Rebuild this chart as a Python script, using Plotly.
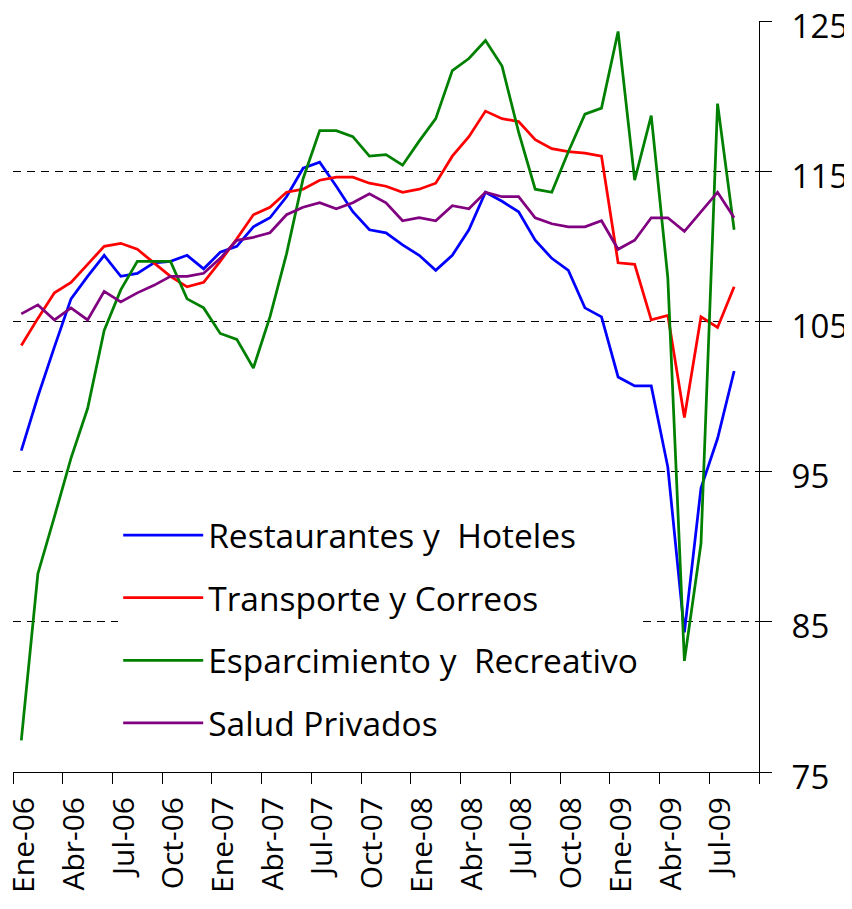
import plotly.graph_objects as go

# Categories (monthly, Ene-06 .. Ago-09)
periods = [
    "Ene-06", "Feb-06", "Mar-06", "Abr-06", "May-06", "Jun-06", "Jul-06", "Ago-06", "Sep-06", "Oct-06", "Nov-06", "Dic-06",
    "Ene-07", "Feb-07", "Mar-07", "Abr-07", "May-07", "Jun-07", "Jul-07", "Ago-07", "Sep-07", "Oct-07", "Nov-07", "Dic-07",
    "Ene-08", "Feb-08", "Mar-08", "Abr-08", "May-08", "Jun-08", "Jul-08", "Ago-08", "Sep-08", "Oct-08", "Nov-08", "Dic-08",
    "Ene-09", "Feb-09", "Mar-09", "Abr-09", "May-09", "Jun-09", "Jul-09", "Ago-09",
]

restaurantes = [96.4, 100.0, 103.3, 106.5, 108.0, 109.4, 108.0, 108.2, 108.9, 109.0, 109.4, 108.5,
                109.6, 110.0, 111.3, 111.9, 113.3, 115.2, 115.6, 114.0, 112.3, 111.1, 110.9, 110.1,
                109.4, 108.4, 109.4, 111.1, 113.6, 113.0, 112.3, 110.4, 109.2, 108.4, 105.9, 105.3,
                101.3, 100.7, 100.7, 95.3, 84.3, 93.9, 97.2, 101.7]

transporte = [103.4, 105.2, 106.9, 107.6, 108.8, 110.0, 110.2, 109.8, 108.9, 108.0, 107.3, 107.6,
              109.0, 110.5, 112.1, 112.6, 113.6, 113.8, 114.4, 114.6, 114.6, 114.2, 114.0, 113.6,
              113.8, 114.2, 116.0, 117.3, 119.0, 118.5, 118.3, 117.1, 116.5, 116.3, 116.2, 116.0,
              108.9, 108.8, 105.1, 105.4, 98.6, 105.3, 104.6, 107.3]

esparcimiento = [77.1, 88.2, 92.0, 95.9, 99.2, 104.4, 107.1, 109.0, 109.0, 109.0, 106.5, 105.9,
                 104.2, 103.8, 101.9, 105.3, 109.5, 114.5, 117.7, 117.7, 117.3, 116.0, 116.1, 115.4,
                 117.0, 118.5, 121.7, 122.5, 123.7, 122.0, 117.6, 113.8, 113.6, 116.3, 118.8, 119.2,
                 124.3, 114.4, 118.7, 107.9, 82.4, 90.2, 119.5, 111.1]

salud = [105.5, 106.1, 105.1, 105.9, 105.1, 107.0, 106.3, 106.9, 107.4, 108.0, 108.0, 108.2,
         109.2, 110.4, 110.6, 110.9, 112.1, 112.6, 112.9, 112.5, 112.9, 113.5, 112.9, 111.7,
         111.9, 111.7, 112.7, 112.5, 113.6, 113.3, 113.3, 111.9, 111.5, 111.3, 111.3, 111.7,
         109.8, 110.4, 111.9, 111.9, 111.0, 112.3, 113.6, 111.9]

series_names = ["Restaurantes y\u00a0 Hoteles", "Transporte y Correos",
                "Esparcimiento y\u00a0 Recreativo", "Salud Privados"]
series_values = [restaurantes, transporte, esparcimiento, salud]
series_colors = ["#0000FF", "#FF0000", "#008000", "#800080"]

y_ticks = [75, 85, 95, 105, 115, 125]
n_slots = 45  # axis spans 45 monthly slots (last one empty)

x_idx = list(range(len(periods)))
label_idx = list(range(0, len(periods), 3))
boundary_ticks = [i - 0.5 for i in range(0, n_slots + 1, 3)]

FONT = "Open Sans"

fig = go.Figure()
for i, (name, vals, col) in enumerate(zip(series_names, series_values, series_colors)):
    fig.add_trace(go.Scatter(
        x=x_idx, y=vals, mode="lines", name=name,
        line=dict(color=col, width=2.75),
        legendgroup=f"g{i}",
    ))

# page body has an 8px default margin, so the figure is sized/placed to compensate
fig.update_layout(
    template="none",
    width=844, height=901,
    margin=dict(l=5, r=93, t=13, b=137, autoexpand=False),
    paper_bgcolor="white", plot_bgcolor="white",
    font=dict(family=FONT, color="black"),
    showlegend=True,
    legend=dict(
        x=0.141, y=0.353, xanchor="left", yanchor="top",
        bgcolor="white", borderwidth=0,
        font=dict(family=FONT, size=33.5, color="black"),
        itemwidth=80, tracegroupgap=16,
    ),
    xaxis=dict(
        automargin=False,
        range=[-0.5, n_slots - 0.5],
        tickmode="array",
        tickvals=label_idx,
        ticktext=[periods[i] for i in label_idx],
        tickangle=-90,
        ticks="",
        ticklabelstandoff=12,
        ticklabelshift=3,
        ticklabeloverflow="allow",
        tickfont=dict(family=FONT, size=30, color="black"),
        showgrid=False, zeroline=False,
        showline=True, linecolor="black", linewidth=1,
        minor=dict(tickmode="array", tickvals=boundary_ticks, ticks="outside",
                   ticklen=11, tickcolor="black", tickwidth=1, showgrid=False),
    ),
    yaxis=dict(
        automargin=False,
        side="right",
        range=[75, 125],
        tickmode="array",
        tickvals=y_ticks,
        ticks="outside", ticklen=12, tickcolor="black", tickwidth=1,
        ticklabelstandoff=13,
        ticklabelshift=5,
        ticklabeloverflow="allow",
        tickfont=dict(family=FONT, size=33, color="black"),
        showgrid=True, gridcolor="black", gridwidth=1, griddash="8px,6px",
        zeroline=False,
        showline=True, linecolor="black", linewidth=1,
    ),
)

fig.write_html("out.html")
